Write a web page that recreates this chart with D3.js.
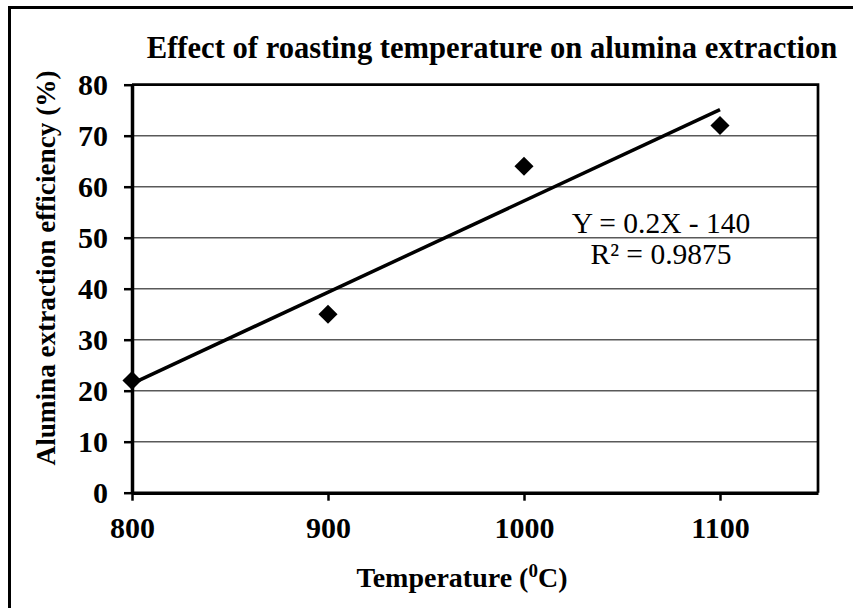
<!DOCTYPE html>
<html>
<head>
<meta charset="utf-8">
<script src="https://cdn.jsdelivr.net/npm/d3@7"></script>
<style>
  body { margin: 0; background: #fff; }
  svg { display: block; }
  text { font-family: "Liberation Serif", "Times New Roman", serif; fill: #000; }
</style>
</head>
<body>
<div class="container"></div>
<script>
// data
const temperatures = [800, 900, 1000, 1100];
const efficiency = [22, 35, 64, 72];
const xTicks = [800, 900, 1000, 1100, 1150];
const xTickLabels = ['800', '900', '1000', '1100', ''];
const yTicks = [0, 10, 20, 30, 40, 50, 60, 70, 80];
const equationLines = ['Y = 0.2X - 140', 'R\u00b2 = 0.9875'];

// config
const config = {
  width: 853,
  height: 608,
  plot: { left: 132, top: 84.7, right: 818, bottom: 492.7 },
  tickSize: 8,
  color: {
    grid: '#595959',
    ink: '#000'
  }
};

const svg = d3.select('.container')
  .append('svg')
  .attr('width', config.width)
  .attr('height', config.height);

// outer chart frame (only top and left edges sit inside the window)
svg.append('rect')
  .attr('x', 9.5)
  .attr('y', 7.5)
  .attr('width', config.width + 20)
  .attr('height', config.height + 20)
  .style('fill', 'none')
  .style('stroke', config.color.ink)
  .style('stroke-width', 3);

const x = d3.scaleLinear()
  .domain([800, 1150])
  .range([config.plot.left, config.plot.right]);

const y = d3.scaleLinear()
  .domain([0, 80])
  .range([config.plot.bottom, config.plot.top]);

// horizontal gridlines
svg.append('g')
  .selectAll('line')
  .data(yTicks.filter(d => d > 0 && d < 80))
  .enter().append('line')
  .attr('x1', config.plot.left)
  .attr('x2', config.plot.right)
  .attr('y1', d => y(d))
  .attr('y2', d => y(d))
  .style('stroke', config.color.grid)
  .style('stroke-width', 1.5);

// top and right border of the plot area
svg.append('path')
  .attr('d', `M${config.plot.left},${y(80)}H${x(1150)}V${y(0)}`)
  .style('fill', 'none')
  .style('stroke', config.color.ink)
  .style('stroke-width', 2.7);

// y axis
const yAxis = svg.append('g')
  .attr('transform', `translate(${config.plot.left},0)`)
  .call(d3.axisLeft(y).tickValues(yTicks).tickSize(config.tickSize).tickPadding(16).tickSizeOuter(0));

// x axis
const xAxis = svg.append('g')
  .attr('transform', `translate(0,${config.plot.bottom})`)
  .call(d3.axisBottom(x).tickValues(xTicks).tickFormat((d, i) => xTickLabels[i])
    .tickSize(config.tickSize).tickPadding(16).tickSizeOuter(0));

[yAxis, xAxis].forEach(axis => {
  axis.select('.domain').style('stroke', config.color.ink).style('stroke-width', 3.5);
  axis.selectAll('.tick line').style('stroke', config.color.ink).style('stroke-width', 2.5);
  axis.selectAll('.tick text')
    .style('font-family', '"Liberation Serif", "Times New Roman", serif')
    .style('font-size', '30px')
    .style('font-weight', 'bold')
    .style('fill', config.color.ink);
});
xAxis.select('.tick:last-of-type line').style('display', 'none');

// linear trendline from least squares
const meanX = d3.mean(temperatures);
const meanY = d3.mean(efficiency);
const slope = d3.sum(temperatures, (t, i) => (t - meanX) * (efficiency[i] - meanY))
  / d3.sum(temperatures, t => (t - meanX) * (t - meanX));
const intercept = meanY - slope * meanX;
const trendX = d3.extent(temperatures);

svg.append('line')
  .attr('x1', x(trendX[0]))
  .attr('y1', y(slope * trendX[0] + intercept))
  .attr('x2', x(trendX[1]))
  .attr('y2', y(slope * trendX[1] + intercept))
  .style('stroke', config.color.ink)
  .style('stroke-width', 3.5);

// data points as diamonds
svg.append('g')
  .selectAll('path')
  .data(temperatures)
  .enter().append('path')
  .attr('d', d3.symbol().type(d3.symbolSquare).size(182))
  .attr('transform', (d, i) => `translate(${x(d)},${y(efficiency[i])}) rotate(45)`)
  .style('fill', config.color.ink);

// equation annotation
svg.append('g')
  .selectAll('text')
  .data(equationLines)
  .enter().append('text')
  .attr('x', 661)
  .attr('y', (d, i) => 233 + i * 31)
  .attr('text-anchor', 'middle')
  .style('font-size', '29.5px')
  .text(d => d);

// title
svg.append('text')
  .attr('x', 492)
  .attr('y', 58)
  .attr('text-anchor', 'middle')
  .style('font-size', '30.6px')
  .style('font-weight', 'bold')
  .text('Effect of roasting temperature on alumina extraction');

// y axis label
svg.append('text')
  .attr('transform', 'translate(55,268) rotate(-90)')
  .attr('text-anchor', 'middle')
  .style('font-size', '27.2px')
  .style('font-weight', 'bold')
  .text('Alumina extraction efficiency (%)');

// x axis label
const xLabel = svg.append('text')
  .attr('x', 462)
  .attr('y', 587)
  .attr('text-anchor', 'middle')
  .style('font-size', '28px')
  .style('font-weight', 'bold');
xLabel.append('tspan').text('Temperature (');
xLabel.append('tspan').attr('dy', -10).style('font-size', '19px').text('0');
xLabel.append('tspan').attr('dy', 10).text('C)');
</script>
</body>
</html>
